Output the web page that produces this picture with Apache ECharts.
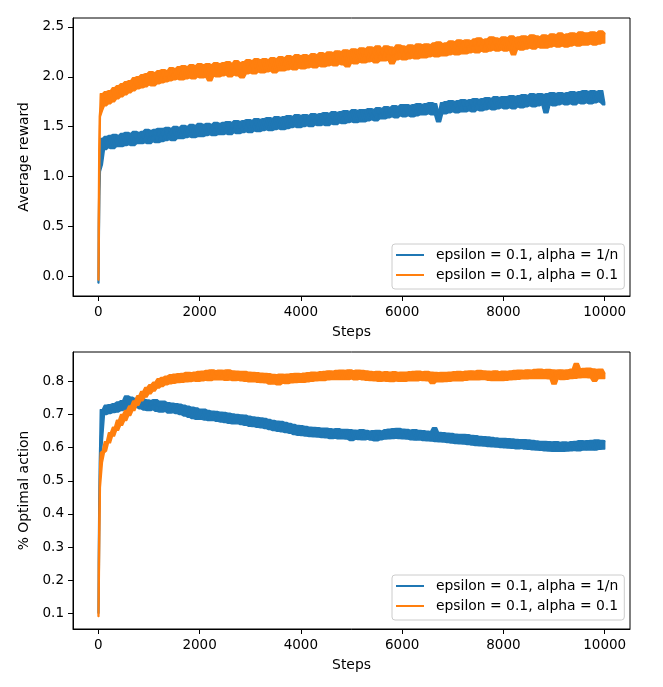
<!DOCTYPE html>
<html>
<head>
<meta charset="utf-8">
<script src="https://cdn.jsdelivr.net/npm/echarts@6/dist/echarts.min.js"></script>
<style>
html,body{margin:0;padding:0;background:#fff;}
#chart{width:663px;height:687px;}
</style>
</head>
<body>
<div id="chart"></div>
<script>
// ---- data ----
var seriesNames = ['epsilon = 0.1, alpha = 1/n', 'epsilon = 0.1, alpha = 0.1'];
var stepTicks = [0, 2000, 4000, 6000, 8000, 10000];
var rewardTicks = [0.0, 0.5, 1.0, 1.5, 2.0, 2.5];
var optimalTicks = [0.1, 0.2, 0.3, 0.4, 0.5, 0.6, 0.7, 0.8];

// first few steps (the steep start)
var earlySteps = [0, 10, 20, 30];
var rewardBlueEarly = [-0.07, 0.45, 0.85, 1.05];
var rewardOrangeEarly = [-0.04, 0.55, 1.25, 1.60];
var optimalBlueEarly = [0.10, 0.25, 0.42, 0.55];
var optimalOrangeEarly = [0.09, 0.22, 0.36, 0.48];

// afterwards: one value every SAMPLE_STEP steps (40, 80, ..., 10000)
var SAMPLE_STEP = 40;

var rewardBlue = [
1.12,1.38,1.27,1.40,1.29,1.41,1.28,1.42,1.30,1.41,
1.30,1.43,1.31,1.44,1.32,1.43,1.31,1.45,1.33,1.44,
1.33,1.45,1.34,1.47,1.33,1.46,1.35,1.47,1.34,1.48,
1.35,1.48,1.36,1.49,1.37,1.48,1.36,1.50,1.38,1.49,
1.38,1.51,1.39,1.50,1.40,1.52,1.39,1.51,1.40,1.53,
1.40,1.52,1.41,1.53,1.42,1.52,1.41,1.54,1.42,1.53,
1.42,1.54,1.43,1.55,1.42,1.54,1.44,1.56,1.43,1.55,
1.44,1.56,1.45,1.57,1.44,1.56,1.46,1.58,1.45,1.57,
1.46,1.58,1.47,1.59,1.46,1.58,1.47,1.60,1.48,1.59,
1.47,1.60,1.48,1.61,1.49,1.60,1.50,1.62,1.49,1.61,
1.50,1.62,1.51,1.61,1.50,1.63,1.52,1.62,1.51,1.63,
1.52,1.64,1.51,1.63,1.53,1.65,1.52,1.64,1.54,1.65,
1.53,1.66,1.54,1.65,1.55,1.67,1.54,1.66,1.55,1.67,
1.55,1.67,1.56,1.68,1.57,1.67,1.56,1.69,1.58,1.68,
1.58,1.70,1.59,1.69,1.60,1.71,1.59,1.70,1.61,1.72,
1.60,1.72,1.61,1.71,1.60,1.72,1.61,1.73,1.62,1.72,
1.62,1.73,1.63,1.74,1.62,1.73,1.63,1.55,1.64,1.74,
1.63,1.75,1.64,1.76,1.65,1.75,1.64,1.76,1.65,1.77,
1.65,1.76,1.66,1.77,1.65,1.78,1.67,1.77,1.66,1.78,
1.67,1.79,1.68,1.78,1.67,1.80,1.68,1.79,1.69,1.80,
1.68,1.80,1.69,1.81,1.68,1.80,1.70,1.81,1.69,1.82,
1.70,1.81,1.71,1.83,1.70,1.82,1.71,1.83,1.72,1.82,
1.64,1.83,1.72,1.84,1.71,1.83,1.72,1.84,1.73,1.83,
1.72,1.84,1.73,1.85,1.72,1.84,1.74,1.85,1.73,1.86,
1.74,1.85,1.73,1.86,1.74,1.85,1.75,1.86,1.74,1.72
];

var rewardOrange = [
1.66,1.83,1.71,1.85,1.73,1.86,1.75,1.89,1.78,1.91,
1.80,1.93,1.82,1.95,1.84,1.96,1.86,1.99,1.88,2.00,
1.89,2.02,1.90,2.03,1.92,2.05,1.91,2.04,1.93,2.06,
1.94,2.07,1.95,2.06,1.96,2.09,1.97,2.08,1.98,2.10,
1.97,2.11,1.98,2.10,1.99,2.12,1.98,2.11,2.00,2.13,
1.99,2.12,2.00,2.13,1.96,2.12,2.01,2.14,2.00,2.13,
2.01,2.14,2.02,2.15,2.00,2.13,2.02,2.16,2.01,2.14,
1.99,2.15,2.03,2.17,2.04,2.16,2.03,2.18,2.05,2.17,
2.04,2.18,2.05,2.17,2.06,2.19,2.04,2.18,2.06,2.20,
2.06,2.19,2.07,2.21,2.08,2.20,2.07,2.22,2.09,2.21,
2.08,2.22,2.09,2.21,2.10,2.23,2.09,2.22,2.11,2.24,
2.10,2.23,2.11,2.25,2.12,2.24,2.11,2.26,2.13,2.25,
2.12,2.27,2.10,2.26,2.14,2.28,2.13,2.27,2.15,2.29,
2.14,2.28,2.15,2.30,2.16,2.29,2.14,2.31,2.16,2.28,
2.16,2.31,2.17,2.30,2.13,2.29,2.17,2.32,2.18,2.31,
2.17,2.30,2.18,2.32,2.19,2.31,2.18,2.33,2.19,2.32,
2.19,2.33,2.20,2.32,2.21,2.34,2.20,2.35,2.21,2.33,
2.21,2.34,2.22,2.36,2.23,2.35,2.22,2.37,2.23,2.36,
2.23,2.37,2.24,2.36,2.25,2.38,2.24,2.39,2.26,2.37,
2.25,2.38,2.26,2.40,2.27,2.39,2.26,2.38,2.27,2.40,
2.26,2.39,2.27,2.41,2.22,2.39,2.28,2.40,2.27,2.41,
2.28,2.40,2.29,2.42,2.28,2.41,2.30,2.40,2.29,2.42,
2.29,2.41,2.30,2.43,2.31,2.42,2.30,2.44,2.31,2.42,
2.30,2.43,2.31,2.44,2.32,2.43,2.31,2.45,2.32,2.44,
2.32,2.44,2.33,2.45,2.32,2.44,2.33,2.46,2.34,2.44
];

var optimalBlue = [
0.620,0.715,0.700,0.728,0.703,0.730,0.706,0.733,0.708,0.738,
0.712,0.742,0.716,0.756,0.720,0.752,0.724,0.748,0.722,0.750,
0.718,0.746,0.714,0.744,0.712,0.742,0.715,0.745,0.710,0.740,
0.708,0.740,0.710,0.736,0.705,0.734,0.706,0.733,0.703,0.731,
0.700,0.728,0.696,0.725,0.692,0.722,0.688,0.720,0.686,0.716,
0.686,0.716,0.684,0.712,0.682,0.710,0.683,0.709,0.680,0.707,
0.678,0.706,0.676,0.704,0.674,0.702,0.672,0.700,0.673,0.699,
0.670,0.698,0.668,0.695,0.665,0.693,0.664,0.691,0.662,0.690,
0.660,0.688,0.658,0.685,0.655,0.682,0.652,0.680,0.650,0.679,
0.648,0.676,0.646,0.673,0.644,0.670,0.640,0.667,0.638,0.666,
0.637,0.664,0.635,0.662,0.634,0.661,0.633,0.660,0.632,0.659,
0.631,0.659,0.630,0.657,0.628,0.656,0.629,0.657,0.627,0.655,
0.627,0.655,0.626,0.654,0.622,0.653,0.626,0.652,0.625,0.654,
0.624,0.652,0.626,0.650,0.623,0.651,0.621,0.652,0.624,0.650,
0.626,0.654,0.627,0.656,0.628,0.657,0.629,0.658,0.628,0.656,
0.627,0.655,0.626,0.653,0.624,0.654,0.623,0.652,0.624,0.651,
0.622,0.650,0.621,0.648,0.620,0.660,0.619,0.646,0.618,0.645,
0.617,0.644,0.616,0.643,0.614,0.641,0.613,0.640,0.612,0.640,
0.611,0.639,0.610,0.637,0.608,0.636,0.607,0.634,0.606,0.633,
0.605,0.632,0.604,0.631,0.603,0.629,0.602,0.628,0.601,0.628,
0.600,0.627,0.599,0.626,0.598,0.625,0.597,0.624,0.598,0.624,
0.596,0.623,0.595,0.622,0.594,0.620,0.593,0.619,0.592,0.619,
0.591,0.618,0.590,0.617,0.589,0.618,0.590,0.616,0.589,0.617,
0.590,0.616,0.591,0.618,0.592,0.619,0.591,0.621,0.593,0.620,
0.593,0.621,0.594,0.622,0.593,0.623,0.595,0.622,0.596,0.621
];

var optimalOrange = [
0.555,0.585,0.590,0.618,0.615,0.645,0.635,0.662,0.653,0.683,
0.668,0.700,0.682,0.712,0.697,0.726,0.712,0.741,0.728,0.757,
0.742,0.770,0.753,0.782,0.763,0.790,0.771,0.798,0.780,0.808,
0.785,0.812,0.790,0.816,0.793,0.820,0.795,0.822,0.797,0.823,
0.798,0.824,0.799,0.827,0.800,0.826,0.802,0.828,0.801,0.830,
0.802,0.831,0.804,0.833,0.803,0.835,0.806,0.832,0.805,0.834,
0.806,0.833,0.804,0.835,0.805,0.832,0.803,0.831,0.804,0.830,
0.802,0.830,0.801,0.828,0.799,0.827,0.800,0.826,0.798,0.825,
0.797,0.824,0.796,0.823,0.792,0.821,0.793,0.820,0.790,0.822,
0.795,0.821,0.794,0.822,0.796,0.823,0.797,0.824,0.798,0.823,
0.798,0.825,0.799,0.826,0.801,0.828,0.802,0.827,0.803,0.829,
0.803,0.830,0.805,0.832,0.806,0.831,0.807,0.833,0.806,0.834,
0.807,0.833,0.806,0.835,0.808,0.832,0.805,0.834,0.807,0.833,
0.805,0.832,0.804,0.830,0.803,0.829,0.802,0.830,0.801,0.828,
0.802,0.829,0.801,0.828,0.800,0.829,0.802,0.827,0.801,0.828,
0.801,0.828,0.802,0.829,0.803,0.830,0.802,0.831,0.804,0.829,
0.803,0.830,0.802,0.828,0.794,0.827,0.800,0.826,0.799,0.827,
0.800,0.827,0.801,0.828,0.802,0.829,0.803,0.830,0.802,0.829,
0.804,0.831,0.805,0.832,0.806,0.831,0.805,0.833,0.806,0.832,
0.806,0.831,0.804,0.830,0.803,0.832,0.804,0.829,0.803,0.831,
0.804,0.830,0.805,0.832,0.806,0.833,0.807,0.834,0.808,0.833,
0.808,0.835,0.809,0.834,0.810,0.836,0.809,0.837,0.810,0.835,
0.809,0.836,0.808,0.835,0.792,0.834,0.808,0.835,0.806,0.834,
0.807,0.835,0.809,0.837,0.810,0.854,0.811,0.838,0.812,0.839,
0.812,0.840,0.811,0.838,0.801,0.836,0.810,0.837,0.809,0.826
];

// ---- build chart ----
function toPairs(early, vals) {
  var out = earlySteps.map(function (s, i) { return [s, early[i]]; });
  vals.forEach(function (v, i) { out.push([(i + 1) * SAMPLE_STEP, v]); });
  return out;
}
// envelope of the noisy trace (min / max of each point and its neighbours),
// used to fill the dense band the 10000-step noise paints in the original
function envelope(pairs) {
  var out = [];
  for (var i = 0; i < pairs.length; i++) {
    var a = Math.max(0, i - 1), b = Math.min(pairs.length - 1, i + 1);
    var mn = Infinity, mx = -Infinity;
    for (var j = a; j <= b; j++) { mn = Math.min(mn, pairs[j][1]); mx = Math.max(mx, pairs[j][1]); }
    out.push([pairs[i][0], mn, mx]);
  }
  return out;
}

var BLUE = '#1f77b4', ORANGE = '#ff7f0e';
var FONT = 'DejaVu Sans';
var FS = 13.9;
var TFS = 13.5;

function xAxisCfg(gridIndex) {
  return {
    type: 'value', gridIndex: gridIndex, min: -500, max: 10500,
    name: 'Steps', nameLocation: 'middle', nameGap: 29,
    nameTextStyle: { fontFamily: FONT, fontSize: FS, color: '#000' },
    axisLine: { show: true, onZero: false, lineStyle: { color: '#000', width: 1 } },
    axisTick: { show: true, length: 5, lineStyle: { color: '#000' }, customValues: stepTicks },
    axisLabel: { fontFamily: FONT, fontSize: TFS, color: '#000', margin: 9, customValues: stepTicks,
      formatter: function (v) { return String(v); } },
    splitLine: { show: false }
  };
}
function yAxisCfg(gridIndex, name, min, max, ticks) {
  return {
    type: 'value', gridIndex: gridIndex, min: min, max: max,
    name: name, nameLocation: 'middle', nameGap: 36,
    nameTextStyle: { fontFamily: FONT, fontSize: FS, color: '#000' },
    axisLine: { show: true, onZero: false, lineStyle: { color: '#000', width: 1 } },
    axisTick: { show: true, length: 5, lineStyle: { color: '#000' }, customValues: ticks },
    axisLabel: { fontFamily: FONT, fontSize: TFS, color: '#000', margin: 9, customValues: ticks,
      formatter: function (v) { return v.toFixed(1); } },
    splitLine: { show: false }
  };
}
function legendCfg(top) {
  return {
    data: seriesNames, orient: 'vertical', left: 392, top: top,
    icon: 'rect', itemWidth: 28, itemHeight: 2, itemGap: 6,
    padding: [4, 6, 7, 4],
    backgroundColor: 'rgba(255,255,255,0.8)', borderColor: '#cccccc', borderWidth: 1, borderRadius: 3,
    textStyle: { fontFamily: FONT, fontSize: FS, color: '#000', lineHeight: 14, padding: [0, 0, 0, 7] },
    selectedMode: false
  };
}
function lineSeries(name, color, xi, yi, data, z) {
  return {
    type: 'line', name: name, xAxisIndex: xi, yAxisIndex: yi, data: data,
    showSymbol: false, symbol: 'none', color: color,
    lineStyle: { color: color, width: 1.5 }, itemStyle: { color: color },
    animation: false, silent: true, z: z
  };
}
// dense noise band: one polygon through the envelope points, placed via the axes
function bandSeries(key, color, xi, yi, pairs, z) {
  var env = envelope(pairs);
  return {
    type: 'custom', name: key, xAxisIndex: xi, yAxisIndex: yi, data: env,
    encode: { x: 0, y: [1, 2] }, silent: true, z: z, animation: false,
    renderItem: function (params, api) {
      if (params.dataIndex !== 0) return null;
      var pts = [];
      for (var i = 0; i < env.length; i++) pts.push(api.coord([env[i][0], env[i][2]]));
      for (var k = env.length - 1; k >= 0; k--) pts.push(api.coord([env[k][0], env[k][1]]));
      return { type: 'polygon', shape: { points: pts },
        style: { fill: color, stroke: color, lineWidth: 1.5, lineJoin: 'round' } };
    }
  };
}

var rB = toPairs(rewardBlueEarly, rewardBlue);
var rO = toPairs(rewardOrangeEarly, rewardOrange);
var oB = toPairs(optimalBlueEarly, optimalBlue);
var oO = toPairs(optimalOrangeEarly, optimalOrange);

var chart = echarts.init(document.getElementById('chart'), null, { renderer: 'canvas' });
chart.setOption({
  animation: false,
  backgroundColor: '#fff',
  grid: [
    { left: 73, right: 33, top: 18, height: 278, show: true, borderColor: '#000', borderWidth: 1, backgroundColor: 'transparent' },
    { left: 73, right: 33, top: 352, height: 277, show: true, borderColor: '#000', borderWidth: 1, backgroundColor: 'transparent' }
  ],
  xAxis: [xAxisCfg(0), xAxisCfg(1)],
  yAxis: [
    yAxisCfg(0, 'Average reward', -0.2, 2.59, rewardTicks),
    yAxisCfg(1, '% Optimal action', 0.0526, 0.889, optimalTicks)
  ],
  legend: [legendCfg(244), legendCfg(575)],
  series: [
    bandSeries('rb', BLUE, 0, 0, rB, 1),
    lineSeries(seriesNames[0], BLUE, 0, 0, rB, 2),
    bandSeries('ro', ORANGE, 0, 0, rO, 3),
    lineSeries(seriesNames[1], ORANGE, 0, 0, rO, 4),
    bandSeries('ob', BLUE, 1, 1, oB, 1),
    lineSeries(seriesNames[0], BLUE, 1, 1, oB, 2),
    bandSeries('oo', ORANGE, 1, 1, oO, 3),
    lineSeries(seriesNames[1], ORANGE, 1, 1, oO, 4)
  ]
});
</script>
</body>
</html>
